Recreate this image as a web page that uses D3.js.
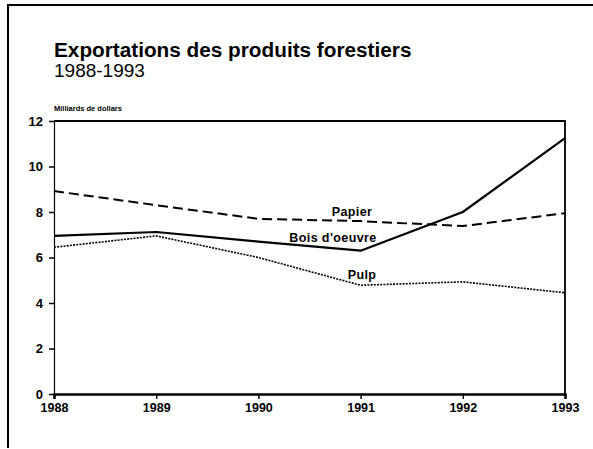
<!DOCTYPE html>
<html>
<head>
<meta charset="utf-8">
<script src="https://cdn.jsdelivr.net/npm/d3@7.9.0/dist/d3.min.js"></script>
<style>
  body { margin: 0; background: #fff; }
  svg { display: block; font-family: "Liberation Sans", Arial, sans-serif; }
</style>
</head>
<body>
<svg id="chart" width="593" height="449"></svg>
<script>
// Data (billions of dollars)
const years = [1988, 1989, 1990, 1991, 1992, 1993];
const boisOeuvre = [6.95, 7.12, 6.7, 6.3, 8.0, 11.25];
const papier = [8.92, 8.3, 7.7, 7.6, 7.38, 7.95];
const pulp = [6.45, 6.95, 6.0, 4.78, 4.93, 4.45];
const yTicks = [0, 2, 4, 6, 8, 10, 12];

const series = [
  { name: "Bois d'oeuvre", values: boisOeuvre, dash: null, width: 2.2, lx: 333, ly: 242 },
  { name: "Papier", values: papier, dash: "10,5", width: 2, lx: 352, ly: 216 },
  { name: "Pulp", values: pulp, dash: "2,1.2", width: 1.6, lx: 362, ly: 279 }
];

const svg = d3.select("#chart");
const margin = { top: 121, right: 28, bottom: 55, left: 54 };
const width = 593, height = 449;
const innerWidth = width - margin.left - margin.right;
const innerHeight = height - margin.top - margin.bottom;

// outer frame (left and top edges only)
svg.append("path")
  .attr("d", `M8,448 V5 H593`)
  .attr("fill", "none")
  .attr("stroke", "#000")
  .attr("stroke-width", 2);

// titles
svg.append("text")
  .attr("x", 54).attr("y", 57)
  .attr("font-size", 20.75).attr("font-weight", "bold")
  .text("Exportations des produits forestiers");
svg.append("text")
  .attr("x", 54).attr("y", 77)
  .attr("font-size", 19)
  .text("1988-1993");
svg.append("text")
  .attr("x", 54).attr("y", 111)
  .attr("font-size", 7.5).attr("font-weight", "bold")
  .text("Milliards de dollars");

const x = d3.scaleLinear()
  .domain([1988, 1993])
  .range([0, innerWidth]);

const y = d3.scaleLinear()
  .domain([0, 12])
  .range([innerHeight, 0]);

const g = svg.append("g")
  .attr("transform", `translate(${margin.left},${margin.top})`);

// plot borders: top and right
g.append("path")
  .attr("d", `M0,0 H${innerWidth} V${innerHeight}`)
  .attr("fill", "none")
  .attr("stroke", "#000")
  .attr("stroke-width", 1.8);

// Y axis
const yAxis = g.append("g")
  .call(d3.axisLeft(y).tickValues(yTicks).tickSize(5).tickPadding(6).tickFormat(d3.format("d")));
yAxis.select(".domain").attr("stroke-width", 1.2);
yAxis.selectAll(".tick line").attr("stroke-width", 1.5);
yAxis.selectAll("text")
  .attr("font-size", 13).attr("font-weight", "bold")
  .attr("font-family", "Liberation Sans, Arial, sans-serif");

// X axis
const xAxis = g.append("g")
  .attr("transform", `translate(0,${innerHeight})`)
  .call(d3.axisBottom(x).tickValues(years).tickSize(5).tickPadding(4).tickFormat(d3.format("d")));
xAxis.select(".domain").attr("stroke-width", 2.5);
xAxis.selectAll(".tick line").attr("stroke-width", 1.5);
xAxis.selectAll("text")
  .attr("font-size", 12.5).attr("font-weight", "bold")
  .attr("font-family", "Liberation Sans, Arial, sans-serif");

// Lines
const line = d3.line()
  .x((d, i) => x(years[i]))
  .y(d => y(d));

series.forEach(s => {
  g.append("path")
    .datum(s.values)
    .attr("d", line)
    .attr("fill", "none")
    .attr("stroke", "#000")
    .attr("stroke-width", s.width)
    .attr("stroke-dasharray", s.dash)
    .attr("stroke-linejoin", "round");
});

// Line labels
svg.selectAll(".series-label")
  .data(series)
  .enter()
  .append("text")
  .attr("class", "series-label")
  .attr("x", d => d.lx)
  .attr("y", d => d.ly)
  .attr("text-anchor", "middle")
  .attr("font-size", 12.5)
  .attr("font-weight", "bold")
  .attr("letter-spacing", 0.4)
  .text(d => d.name);
</script>
</body>
</html>
